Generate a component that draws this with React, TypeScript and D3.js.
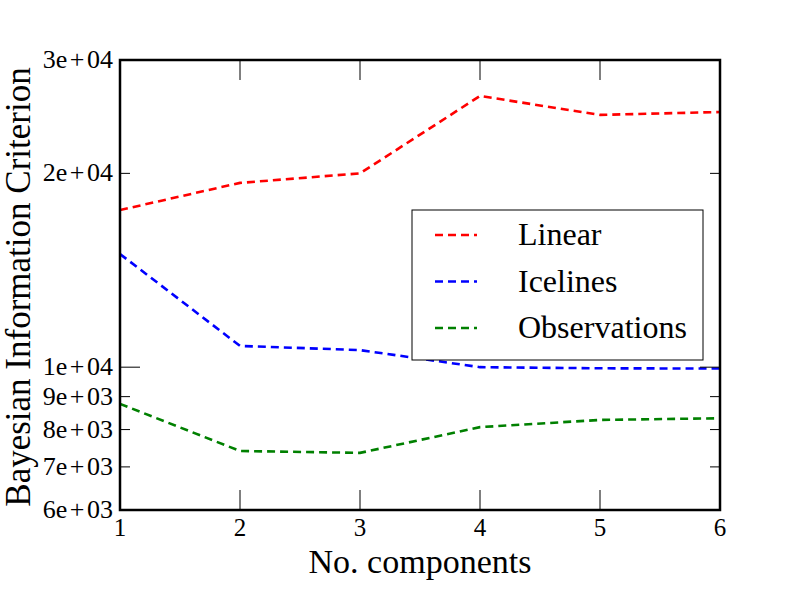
import React from "react";
import * as d3 from "d3";

const components = [1, 2, 3, 4, 5, 6];
const linear = [17540, 19330, 20000, 26380, 24650, 24910];
const icelines = [14990, 10790, 10630, 10000, 9960, 9950];
const observations = [8770, 7410, 7360, 8070, 8280, 8330];

const seriesNames = ["Linear", "Icelines", "Observations"];
const seriesColors = ["#ff0000", "#0000ff", "#008000"];

const yMajorTicks = [10000];
const yMinorTicks = [6000, 7000, 8000, 9000, 20000, 30000];
const yTickLabels: Record<number, [string, string]> = {
  6000: ["6e", "03"],
  7000: ["7e", "03"],
  8000: ["8e", "03"],
  9000: ["9e", "03"],
  10000: ["1e", "04"],
  20000: ["2e", "04"],
  30000: ["3e", "04"],
};

const W = 800;
const H = 600;
const L = 120, R = 720, T = 60, B = 510;
const FONT = "'Liberation Serif', 'Times New Roman', serif";

export default function App() {
  const x = d3.scaleLinear().domain([1, 6]).range([L, R]);
  const y = d3.scaleLog().domain([6000, 30000]).range([B, T]);
  const line = d3
    .line<number>()
    .x((_, i) => x(components[i]))
    .y((d) => y(d));
  const data = [linear, icelines, observations];

  const legX = 412, legY = 210, legW = 291, legH = 150;
  const rowY = [235, 281.5, 328];

  const yTicks = [
    ...yMajorTicks.map((v) => ({ v, len: 20 })),
    ...yMinorTicks.map((v) => ({ v, len: 10 })),
  ];

  return (
    <svg
      width={W}
      height={H}
      style={{ position: "absolute", left: 0, top: 0, background: "#fff" }}
      fontFamily={FONT}
    >
      <rect x={0} y={0} width={W} height={H} fill="#fff" />
      <defs>
        <clipPath id="plot">
          <rect x={L} y={T} width={R - L} height={B - T} />
        </clipPath>
      </defs>
      <rect x={L} y={T} width={R - L} height={B - T} fill="#fff" />
      <g clipPath="url(#plot)">
        {data.map((d, i) => (
          <path
            key={i}
            d={line(d) || ""}
            fill="none"
            stroke={seriesColors[i]}
            strokeWidth={2.6}
            strokeDasharray="8,5"
          />
        ))}
      </g>
      {/* ticks */}
      <g stroke="#000" strokeWidth={1}>
        {components.map((c) => (
          <g key={"xt" + c}>
            <line x1={x(c)} x2={x(c)} y1={B} y2={B - 20} />
            <line x1={x(c)} x2={x(c)} y1={T} y2={T + 20} />
          </g>
        ))}
        {yTicks.map((t) => (
          <g key={"yt" + t.v}>
            <line x1={L} x2={L + t.len} y1={y(t.v)} y2={y(t.v)} />
            <line x1={R} x2={R - t.len} y1={y(t.v)} y2={y(t.v)} />
          </g>
        ))}
      </g>
      {/* spines */}
      <rect
        x={L}
        y={T}
        width={R - L}
        height={B - T}
        fill="none"
        stroke="#000"
        strokeWidth={2.5}
      />
      {/* x tick labels */}
      {components.map((c) => (
        <text
          key={"xl" + c}
          x={x(c)}
          y={B + 26}
          textAnchor="middle"
          fontSize={25}
          fill="#000"
        >
          {String(c)}
        </text>
      ))}
      {/* y tick labels */}
      {Object.keys(yTickLabels).map((k) => {
        const v = +k;
        const [a, b] = yTickLabels[v];
        return (
          <text
            key={"yl" + k}
            x={113}
            y={y(v) + 8}
            textAnchor="end"
            fontSize={26}
            fill="#000"
          >
            <tspan>{a}</tspan>
            <tspan dx={2.5}>+</tspan>
            <tspan dx={2.5}>{b}</tspan>
          </text>
        );
      })}
      {/* axis labels */}
      <text
        x={(L + R) / 2}
        y={573}
        textAnchor="middle"
        fontSize={34}
        fill="#000"
      >
        No. components
      </text>
      <text
        transform={`translate(30,${(T + B) / 2 + 2}) rotate(-90)`}
        textAnchor="middle"
        fontSize={35}
        fill="#000"
      >
        Bayesian Information Criterion
      </text>
      {/* legend */}
      <rect
        x={legX}
        y={legY}
        width={legW}
        height={legH}
        fill="#fff"
        stroke="#000"
        strokeWidth={1}
      />
      {seriesNames.map((n, i) => (
        <g key={n}>
          <line
            x1={435}
            x2={477}
            y1={rowY[i]}
            y2={rowY[i]}
            stroke={seriesColors[i]}
            strokeWidth={2.6}
            strokeDasharray="8,5"
          />
          <text x={518} y={rowY[i] + 10} fontSize={32} fill="#000">
            {n}
          </text>
        </g>
      ))}
    </svg>
  );
}
